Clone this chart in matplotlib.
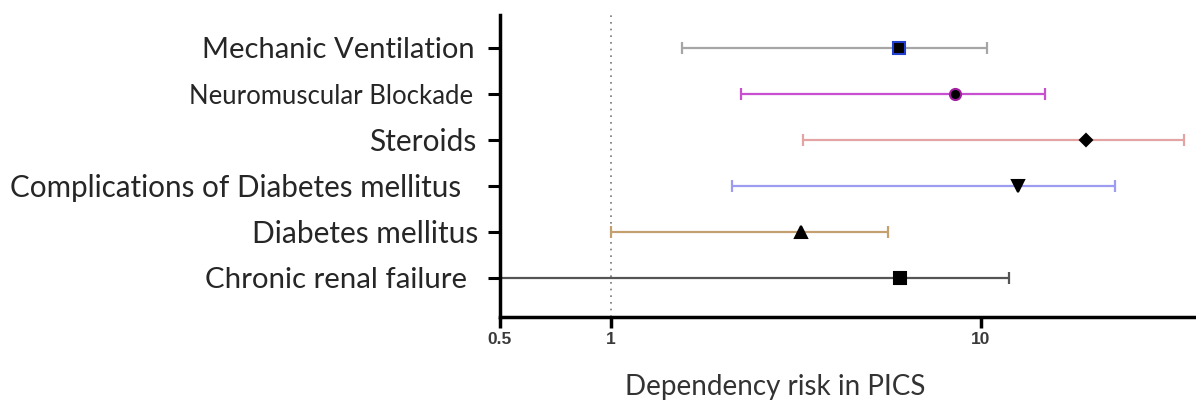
import matplotlib.pyplot as plt
import matplotlib.transforms as mtransforms
import numpy as np
from matplotlib.ticker import NullLocator

# data, top row first
labels = ['Mechanic Ventilation', 'Neuromuscular Blockade', 'Steroids',
          'Complications of Diabetes mellitus', 'Diabetes mellitus',
          'Chronic renal failure']
estimates = [6.0, 8.55, 19.3, 12.6, 3.27, 6.07]
lower_ci = [1.56, 2.24, 3.31, 2.13, 1.0, 0.4]
upper_ci = [10.4, 14.9, 35.5, 23.1, 5.6, 11.9]

line_colors = ['#a6a6a6', '#c84fd0', '#e4a4a4', '#9c9cf0', '#c4a070', '#555555']
edge_colors = ['#1f3fd0', '#a020a0', 'black', 'black', 'black', 'black']
markers = ['s', 'o', 'D', 'v', '^', 's']
msizes = [8, 8, 6, 9, 8, 9]
label_sizes = [21, 18.5, 21.5, 21.3, 21.5, 21.2]
label_gaps = [25, 27, 24, 39, 22, 33]  # pixels from the axis line to the text end


def forest_plot():
	fig = plt.figure(figsize=(11.96, 4.03), dpi=100)
	ax = fig.add_axes([0.418, 0.2134, 0.581, 0.7494])

	n = len(labels)
	ypos = np.arange(n)[::-1]

	ax.axvline(1, color='#777777', linestyle=(0, (1, 3)), linewidth=1.2, zorder=1)

	for i in range(n):
		err = [[estimates[i] - lower_ci[i]], [upper_ci[i] - estimates[i]]]
		ax.errorbar(estimates[i], ypos[i], xerr=err, fmt='none',
			ecolor=line_colors[i], elinewidth=1.6, capsize=4, capthick=1.6,
			zorder=2)
		ax.plot(estimates[i], ypos[i], marker=markers[i], markersize=msizes[i],
			markerfacecolor='black', markeredgecolor=edge_colors[i],
			markeredgewidth=1.5, linestyle='none', zorder=3)

	ax.set_xscale('log')
	ax.set_xlim(0.5, 38)
	ax.set_ylim(-0.85, 5.72)
	ax.set_xticks([0.5, 1, 10])
	ax.set_xticklabels(['0.5', '1', '10'], fontsize=12.5, fontweight='bold',
		family='Liberation Sans', color='#3a3a3a')
	ax.xaxis.set_minor_locator(NullLocator())

	# category labels as texts so each one can sit at its own gap
	ax.set_yticks(ypos)
	ax.set_yticklabels([])
	ax.tick_params(axis='y', length=9, width=2.2)
	ax.tick_params(axis='x', length=8, width=2.5, pad=3)
	trans = mtransforms.blended_transform_factory(ax.transAxes, ax.transData)
	for i in range(n):
		off = mtransforms.ScaledTranslation(-label_gaps[i] / 100, -0.02,
			fig.dpi_scale_trans)
		ax.text(0, ypos[i], labels[i], transform=trans + off, ha='right',
			va='center', fontsize=label_sizes[i], family='Lato',
			color='#262626')

	for side in ['top', 'right']:
		ax.spines[side].set_visible(False)
	for side in ['left', 'bottom']:
		ax.spines[side].set_linewidth(2.5)

	fig.text(0.648, 0.02, 'Dependency risk in PICS', family='Lato',
		fontsize=20, color='#333333', ha='center', va='baseline')

	fig.savefig('out.png', dpi=100)


if __name__ == "__main__":
	forest_plot()
